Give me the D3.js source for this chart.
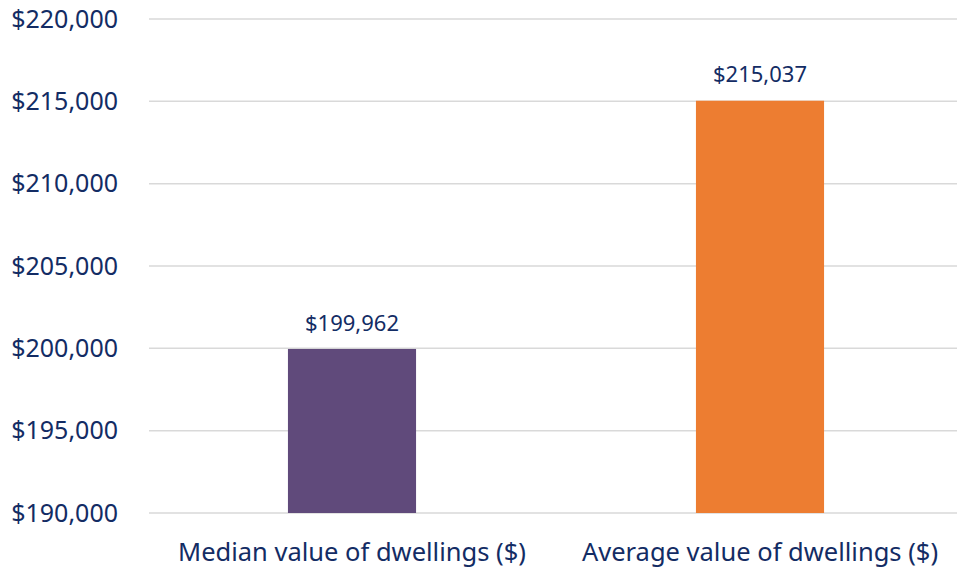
<!DOCTYPE html>
<html lang="en">
<head>
    <meta charset="UTF-8">
    <title>Median and Average Value of Dwellings</title>
    <script src="https://d3js.org/d3.v7.min.js"></script>
    <style>
        body { margin: 0; background: #fff; }
        svg { display: block; font-family: "Noto Sans", sans-serif; }
    </style>
</head>
<body>
    <svg id="bar-chart"></svg>
    <script>
        var categories = ["Median value of dwellings ($)", "Average value of dwellings ($)"];
        var values = [199962, 215037];
        var barColors = ["#604A7B", "#ED7D31"];
        var yTicks = [190000, 195000, 200000, 205000, 210000, 215000, 220000];

        var width = 957, height = 569;
        var textColor = "#132C64";
        var fmt = d3.format("$,");

        var svg = d3.select("#bar-chart")
                    .attr("width", width)
                    .attr("height", height);

        var xScale = d3.scaleBand()
                       .domain(categories)
                       .range([148, 964])
                       .paddingInner(0.686)
                       .paddingOuter(0.343);

        var yScale = d3.scaleLinear()
                       .domain([190000, 220000])
                       .range([513, 19]);

        // gridlines
        svg.append("g")
           .selectAll("line")
           .data(yTicks)
           .join("line")
           .attr("x1", 149)
           .attr("x2", width)
           .attr("y1", function(d) { return yScale(d); })
           .attr("y2", function(d) { return yScale(d); })
           .attr("stroke", "#D9D9D9")
           .attr("stroke-width", 1.5);

        // y axis
        var yAxis = svg.append("g")
           .attr("transform", "translate(118,0)")
           .call(d3.axisLeft(yScale).tickValues(yTicks).tickFormat(fmt).tickSize(0).tickPadding(0));
        yAxis.select(".domain").remove();
        yAxis.selectAll("text")
             .attr("fill", textColor)
             .attr("font-size", "25px")
             .attr("font-family", "Noto Sans, sans-serif");

        // bars
        svg.append("g")
           .selectAll("rect")
           .data(values)
           .join("rect")
           .attr("x", function(d, i) { return xScale(categories[i]); })
           .attr("width", xScale.bandwidth())
           .attr("y", function(d) { return yScale(d); })
           .attr("height", function(d) { return yScale(190000) - yScale(d); })
           .attr("fill", function(d, i) { return barColors[i]; });

        // data labels
        svg.append("g")
           .selectAll("text")
           .data(values)
           .join("text")
           .attr("x", function(d, i) { return xScale(categories[i]) + xScale.bandwidth() / 2; })
           .attr("y", function(d) { return yScale(d) - 26; })
           .attr("dy", "0.35em")
           .attr("text-anchor", "middle")
           .attr("fill", textColor)
           .attr("font-size", "22px")
           .text(function(d) { return fmt(d); });

        // x axis
        var xAxis = svg.append("g")
           .attr("transform", "translate(0,513)")
           .call(d3.axisBottom(xScale).tickSize(0).tickPadding(0));
        xAxis.select(".domain").remove();
        xAxis.selectAll("text")
             .attr("y", 39)
             .attr("dy", "0.35em")
             .attr("fill", textColor)
             .attr("font-size", "25.5px")
             .attr("font-family", "Noto Sans, sans-serif");
    </script>
</body>
</html>
